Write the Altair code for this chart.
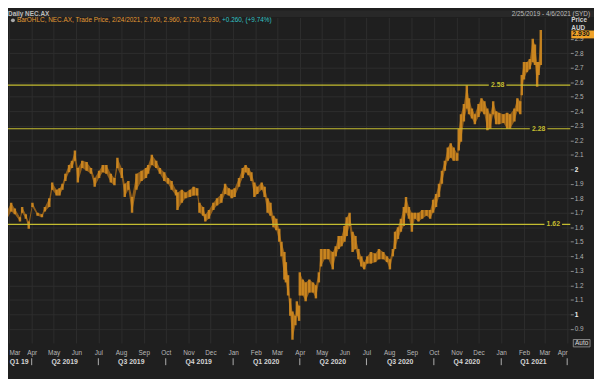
import altair as alt
import pandas as pd

FONT = "Liberation Sans"
BG = "#1f1f1f"
GRID = "#2e2e2e"
ORANGE = "#d08a20"
YELLOW = "#c4bd30"
LABEL = "#b8b8b8"

# ---- daily NEC.AX price band (sampled), high / low in AUD ----
dates = [
    "2019-02-25", "2019-03-04", "2019-03-09", "2019-03-16", "2019-03-19", "2019-03-24", "2019-03-28",
    "2019-04-02", "2019-04-09", "2019-04-15", "2019-04-19", "2019-04-25", "2019-04-29",
    "2019-05-05", "2019-05-09", "2019-05-13", "2019-05-17", "2019-05-22", "2019-05-26", "2019-05-30",
    "2019-06-03", "2019-06-09", "2019-06-15", "2019-06-21", "2019-06-26",
    "2019-07-02", "2019-07-07", "2019-07-12", "2019-07-18", "2019-07-23", "2019-07-27",
    "2019-08-02", "2019-08-06", "2019-08-11", "2019-08-16", "2019-08-22", "2019-08-29",
    "2019-09-04", "2019-09-07", "2019-09-12", "2019-09-18", "2019-09-23", "2019-09-29",
    "2019-10-04", "2019-10-09", "2019-10-15", "2019-10-17", "2019-10-23", "2019-10-28",
    "2019-11-03", "2019-11-08", "2019-11-13", "2019-11-16", "2019-11-21", "2019-11-24", "2019-11-29",
    "2019-12-05", "2019-12-10", "2019-12-16", "2019-12-21", "2019-12-26", "2019-12-30",
    "2020-01-03", "2020-01-09", "2020-01-14", "2020-01-18", "2020-01-22", "2020-01-26", "2020-01-30",
    "2020-02-03", "2020-02-09", "2020-02-13", "2020-02-17", "2020-02-21", "2020-02-25", "2020-02-29",
    "2020-03-04", "2020-03-07", "2020-03-11", "2020-03-13", "2020-03-16", "2020-03-19", "2020-03-22",
    "2020-03-26", "2020-03-28", "2020-03-31",
    "2020-04-01", "2020-04-05", "2020-04-09", "2020-04-14", "2020-04-19", "2020-04-23", "2020-04-27", "2020-04-30",
    "2020-05-05", "2020-05-10", "2020-05-16", "2020-05-20", "2020-05-24", "2020-05-28",
    "2020-06-01", "2020-06-04", "2020-06-08", "2020-06-12", "2020-06-16", "2020-06-20", "2020-06-24", "2020-06-28",
    "2020-07-02", "2020-07-07", "2020-07-13", "2020-07-18", "2020-07-24", "2020-07-29",
    "2020-08-02", "2020-08-06", "2020-08-09", "2020-08-13", "2020-08-17", "2020-08-21", "2020-08-24", "2020-08-28",
    "2020-09-01", "2020-09-05", "2020-09-10", "2020-09-15", "2020-09-21", "2020-09-26", "2020-09-30",
    "2020-10-04", "2020-10-08", "2020-10-12", "2020-10-16", "2020-10-20", "2020-10-24", "2020-10-28",
    "2020-11-02", "2020-11-04", "2020-11-07", "2020-11-11", "2020-11-15", "2020-11-18", "2020-11-22", "2020-11-26",
    "2020-12-01", "2020-12-05", "2020-12-09", "2020-12-13", "2020-12-17", "2020-12-21", "2020-12-25", "2020-12-29",
    "2021-01-04", "2021-01-09", "2021-01-13", "2021-01-19", "2021-01-23", "2021-01-27", "2021-01-29",
    "2021-02-01", "2021-02-05", "2021-02-09", "2021-02-13", "2021-02-16", "2021-02-19", "2021-02-21", "2021-02-24",
]
high = [
    1.70, 1.77, 1.73, 1.67, 1.74, 1.69, 1.64,
    1.77, 1.70, 1.69, 1.74, 1.80, 1.91,
    1.86, 1.87, 1.90, 1.97, 2.03, 2.06, 2.13,
    2.01, 2.06, 2.05, 2.01, 1.94,
    1.99, 2.03, 2.03, 1.97, 1.94, 2.08,
    2.01, 1.90, 1.92, 1.81, 1.97, 1.99,
    2.01, 2.03, 2.10, 2.06, 2.01, 1.98,
    1.94, 1.92, 1.86, 1.84, 1.86, 1.84,
    1.86, 1.88, 1.87, 1.77, 1.74, 1.69, 1.72,
    1.77, 1.80, 1.83, 1.90, 1.87, 1.86,
    1.87, 1.94, 2.01, 2.03, 2.01, 1.98, 1.91,
    1.88, 1.91, 1.88, 1.80, 1.77, 1.68, 1.66,
    1.59, 1.50, 1.43, 1.36, 1.27, 1.11, 1.02, 0.99, 1.09, 1.06,
    1.29, 1.24, 1.22, 1.24, 1.22, 1.20, 1.29, 1.45,
    1.45, 1.45, 1.43, 1.47, 1.54, 1.54,
    1.61, 1.67, 1.70, 1.57, 1.54, 1.45, 1.40, 1.36,
    1.40, 1.43, 1.42, 1.45, 1.43, 1.40,
    1.38, 1.45, 1.57, 1.60, 1.66, 1.74, 1.81, 1.74,
    1.70, 1.70, 1.70, 1.72, 1.72, 1.72, 1.79,
    1.83, 1.90, 1.99, 2.06, 2.15, 2.18, 2.15,
    2.11, 2.28, 2.38, 2.45, 2.58, 2.49, 2.42, 2.38,
    2.45, 2.49, 2.47, 2.42, 2.38, 2.47, 2.40, 2.39,
    2.38, 2.39, 2.38, 2.42, 2.49, 2.47, 2.65,
    2.74, 2.74, 2.76, 2.90, 2.86, 2.74, 2.74, 2.96,
]
low = [
    1.645, 1.71, 1.69, 1.64, 1.70, 1.66, 1.59,
    1.74, 1.68, 1.67, 1.71, 1.74, 1.86,
    1.82, 1.82, 1.86, 1.92, 1.98, 2.01, 2.06,
    1.91, 2.01, 1.99, 1.97, 1.88,
    1.94, 1.98, 1.97, 1.91, 1.89, 2.01,
    1.94, 1.81, 1.86, 1.70, 1.86, 1.92,
    1.94, 1.97, 2.03, 2.01, 1.97, 1.92,
    1.90, 1.86, 1.82, 1.72, 1.77, 1.80,
    1.81, 1.82, 1.82, 1.70, 1.68, 1.64, 1.66,
    1.72, 1.75, 1.77, 1.83, 1.82, 1.80,
    1.81, 1.88, 1.94, 1.98, 1.96, 1.92, 1.81,
    1.83, 1.86, 1.81, 1.70, 1.68, 1.60, 1.58,
    1.50, 1.40, 1.24, 1.22, 1.13, 0.99, 0.825, 0.925, 0.99, 0.955,
    1.13, 1.13, 1.09, 1.15, 1.15, 1.11, 1.22, 1.33,
    1.38, 1.38, 1.31, 1.40, 1.45, 1.47,
    1.50, 1.54, 1.61, 1.43, 1.45, 1.38, 1.33, 1.31,
    1.35, 1.35, 1.36, 1.38, 1.38, 1.36,
    1.31, 1.40, 1.45, 1.52, 1.57, 1.61, 1.70, 1.66,
    1.57, 1.66, 1.64, 1.66, 1.68, 1.66, 1.70,
    1.74, 1.81, 1.90, 1.99, 2.06, 2.08, 2.06,
    2.06, 2.13, 2.19, 2.33, 2.42, 2.38, 2.35, 2.31,
    2.36, 2.40, 2.38, 2.27, 2.28, 2.38, 2.31, 2.31,
    2.32, 2.28, 2.28, 2.33, 2.40, 2.38, 2.51,
    2.62, 2.67, 2.69, 2.74, 2.72, 2.57, 2.65, 2.72,
]
assert len(dates) == len(high) == len(low)

# ---- horizontal reference levels ----
levels = [2.58, 2.28, 1.62]
level_label_at = ["2020-12-27", "2021-02-21", "2021-03-13"]

# ---- axis / annotation texts ----
y_ticks = [0.9, 1.0, 1.1, 1.2, 1.3, 1.4, 1.5, 1.6, 1.7, 1.8, 1.9,
           2.0, 2.1, 2.2, 2.3, 2.4, 2.5, 2.6, 2.7, 2.8, 2.9]
quarter_labels = ["Q1 19", "Q2 2019", "Q3 2019", "Q4 2019", "Q1 2020",
                  "Q2 2020", "Q3 2020", "Q4 2020", "Q1 2021"]
quarter_mid = ["2019-03-15", "2019-05-16", "2019-08-15", "2019-11-15", "2020-02-15",
               "2020-05-16", "2020-08-16", "2020-11-15", "2021-02-14"]
quarter_starts = ["2019-04-01", "2019-07-01", "2019-10-01", "2020-01-01", "2020-04-01",
                  "2020-07-01", "2020-10-01", "2021-01-01", "2021-04-01"]
last_price = [2.93]
header_left = "Daily NEC.AX"
header_right = "2/25/2019 - 4/6/2021 (SYD)"
legend_main = "BarOHLC, NEC.AX, Trade Price, 2/24/2021, 2.760, 2.960, 2.720, 2.930,"
legend_change = "+0.260, (+9.74%)"

W, H = 570, 330

df = pd.DataFrame({"date": pd.to_datetime(dates), "high": high, "low": low})
lv = pd.DataFrame({"level": levels, "at": pd.to_datetime(level_label_at)})
lv["start"] = lv["at"] - pd.Timedelta(days=12)
lv["end"] = lv["at"] + pd.Timedelta(days=12)
qdf = pd.DataFrame({"label": quarter_labels, "mid": pd.to_datetime(quarter_mid)})
qsep = pd.DataFrame({"start": pd.to_datetime(quarter_starts)})
lp = pd.DataFrame({"price": last_price})

x_scale = alt.Scale(domain=[alt.DateTime(year=2019, month=2, date=27, hours=16),
                            alt.DateTime(year=2021, month=4, date=5, hours=7)], padding=0)
y_scale = alt.Scale(domain=[0.8027, 3.0476], nice=False, zero=False, padding=0)

x_axis = alt.Axis(title=None, format="%b", tickCount={"interval": "month", "step": 1},
                  grid=True, gridColor=GRID, ticks=False, domain=False,
                  labelColor=LABEL, labelFontSize=6.5, labelFont=FONT, labelPadding=7,
                  labelOverlap=False, labelFlush=6)
y_axis = alt.Axis(title=None, orient="right", values=y_ticks, format=".1~f",
                  grid=True, gridColor=GRID, tickSize=3, tickColor="#8c8c8c",
                  domain=False, labelPadding=1, labelFontSize=6.5, labelFont=FONT,
                  labelColor=alt.condition("datum.value % 1 === 0", alt.value("#f0f0f0"), alt.value("#b0b0b0")),
                  labelFontWeight=alt.condition("datum.value % 1 === 0", alt.value("bold"), alt.value("normal")))


def X(field):
    return alt.X(field, scale=x_scale, axis=x_axis)


def Y(field):
    return alt.Y(field, scale=y_scale, axis=y_axis)


band = alt.Chart(df).mark_area(color="#93601a", opacity=0.95, interpolate="linear", clip=True).encode(
    x=X("date:T"), y=Y("low:Q"), y2="high:Q")
bars = alt.Chart(df).mark_bar(width=2.5, color=ORANGE, opacity=0.9, clip=True).encode(
    x=X("date:T"), y=Y("low:Q"), y2="high:Q")

level_rules = alt.Chart(lv).mark_rule(color=YELLOW, strokeWidth=1.2).encode(y=Y("level:Q"))
level_gaps = alt.Chart(lv).transform_calculate(
    lo="datum.level - 0.03", hi="datum.level + 0.03"
).mark_rect(color=BG).encode(x=X("start:T"), x2="end:T", y=Y("lo:Q"), y2="hi:Q")
level_text = alt.Chart(lv).mark_text(color=YELLOW, font=FONT, fontSize=7, fontWeight="bold").encode(
    x=X("at:T"), y=Y("level:Q"), text=alt.Text("level:Q", format=".2f"))

q_text = alt.Chart(qdf).mark_text(color="#d4d4d4", font=FONT, fontSize=7, fontWeight="bold",
                                  baseline="middle").encode(
    x=X("mid:T"), y=alt.value(349), text="label:N")
q_sep = alt.Chart(qsep).mark_rule(color="#b0b0b0", strokeWidth=1).encode(
    x=X("start:T"), y=alt.value(345.5), y2=alt.value(352.5))

lp_box = alt.Chart(lp).transform_calculate(
    lo="datum.price - 0.027", hi="datum.price + 0.027"
).mark_rect(color="#f0a228").encode(
    x=alt.value(571), x2=alt.value(594), y=Y("lo:Q"), y2="hi:Q")
lp_text = alt.Chart(lp).mark_text(color="#151515", font=FONT, fontSize=7, fontWeight="bold",
                                  align="left", baseline="middle").encode(
    x=alt.value(572), y=Y("price:Q"), text=alt.Text("price:Q", format=".3f"))


def label(text, x, y, color, size=6.5, weight="normal", align="left"):
    return alt.Chart(pd.DataFrame({"t": [text]})).mark_text(
        color=color, font=FONT, fontSize=size, fontWeight=weight, align=align, baseline="middle"
    ).encode(x=alt.value(x), y=alt.value(y), text="t:N")


header_strip = alt.Chart(pd.DataFrame({"t": [0]})).mark_rect(color="#282828").encode(
    x=alt.value(0), x2=alt.value(594), y=alt.value(-7), y2=alt.value(-0.5))
icon = alt.Chart(pd.DataFrame({"t": [0]})).mark_point(
    filled=True, color="#a8a8a8", size=16, shape="circle", opacity=1
).encode(x=alt.value(5), y=alt.value(3))
auto_box = alt.Chart(pd.DataFrame({"t": [0]})).mark_rect(
    color="#262626", stroke="#9a9a9a", strokeWidth=0.8).encode(
    x=alt.value(573), x2=alt.value(590), y=alt.value(326.5), y2=alt.value(334))

chart = alt.layer(
    band, bars, level_rules, level_gaps, level_text,
    q_text, q_sep, lp_box, lp_text, header_strip, icon, auto_box,
    label(header_left, 0, -3.75, "#bdbdbd", weight="bold"),
    label(header_right, 590, -3.75, "#bdbdbd", align="right"),
    label(legend_main, 9, 3, "#e29a34"),
    label(legend_change, 217, 3, "#33c3c6"),
    label("Price", 571, 3, "#cfcfcf", weight="bold"),
    label("AUD", 571, 10.5, "#cfcfcf", weight="bold"),
    label("Auto", 581.5, 330.5, "#dcdcdc", align="center"),
).properties(
    width=W, height=H,
    padding={"left": 0, "top": 7, "right": 24, "bottom": 34},
    autosize=alt.AutoSizeParams(type="none"),
    background=BG,
).configure_view(stroke=None, fill=BG)

chart.save("out.html", embed_options={"renderer": "svg", "actions": False})
